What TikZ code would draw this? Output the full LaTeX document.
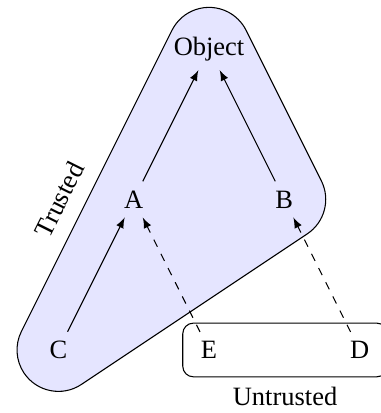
\documentclass[tikz,border=0pt]{standalone}
\usepackage{fontspec}
\setmainfont{Liberation Serif}
\usetikzlibrary{positioning, calc, fit, backgrounds}

\begin{document}
\begin{tikzpicture}[
    node distance=2cm and 1cm, on grid,
    arr/.style={-latex},
    darr/.style={-latex, dashed},
    hull/.style={draw, fill=blue!10},
    group/.style={draw, rounded corners, inner sep=0.333em},
    tlabel/.style={sloped, above=2.5pt, pos=0.4}
]
\useasboundingbox (-2.776,-4.837) rectangle (2.271,0.648);
% Nodes
\node (obj) {Object};
\node[below left=of obj] (A) {A};
\node[below right=of obj] (B) {B};
\node[below left=of A] (C) {C};
\node[below right=of A] (E) {E};
\node[below right=of B] (D) {D};

% Groups
\begin{scope}[on background layer]
\draw[hull] ($(obj)+(153.43:5.5mm)$) arc[start angle=153.43, end angle=26.57, radius=5.5mm]
    -- ($(B)+(26.57:5.5mm)$) arc[start angle=26.57, end angle=-56.31, radius=5.5mm]
    -- ($(C)+(-56.31:5.5mm)$) arc[start angle=-56.31, end angle=-206.57, radius=5.5mm]
    -- node[tlabel] {Trusted} cycle;
\end{scope}
\node[group, fit=(E)(D), label={[label distance=0pt]below:Untrusted}] (untr) {};

% Arrows
\draw[arr] (A) -- (obj);
\draw[arr] (B) -- (obj);
\draw[arr] (C) -- (A);
\draw[darr] (E) -- (A);
\draw[darr] (D) -- (B);
\end{tikzpicture}
\end{document}
